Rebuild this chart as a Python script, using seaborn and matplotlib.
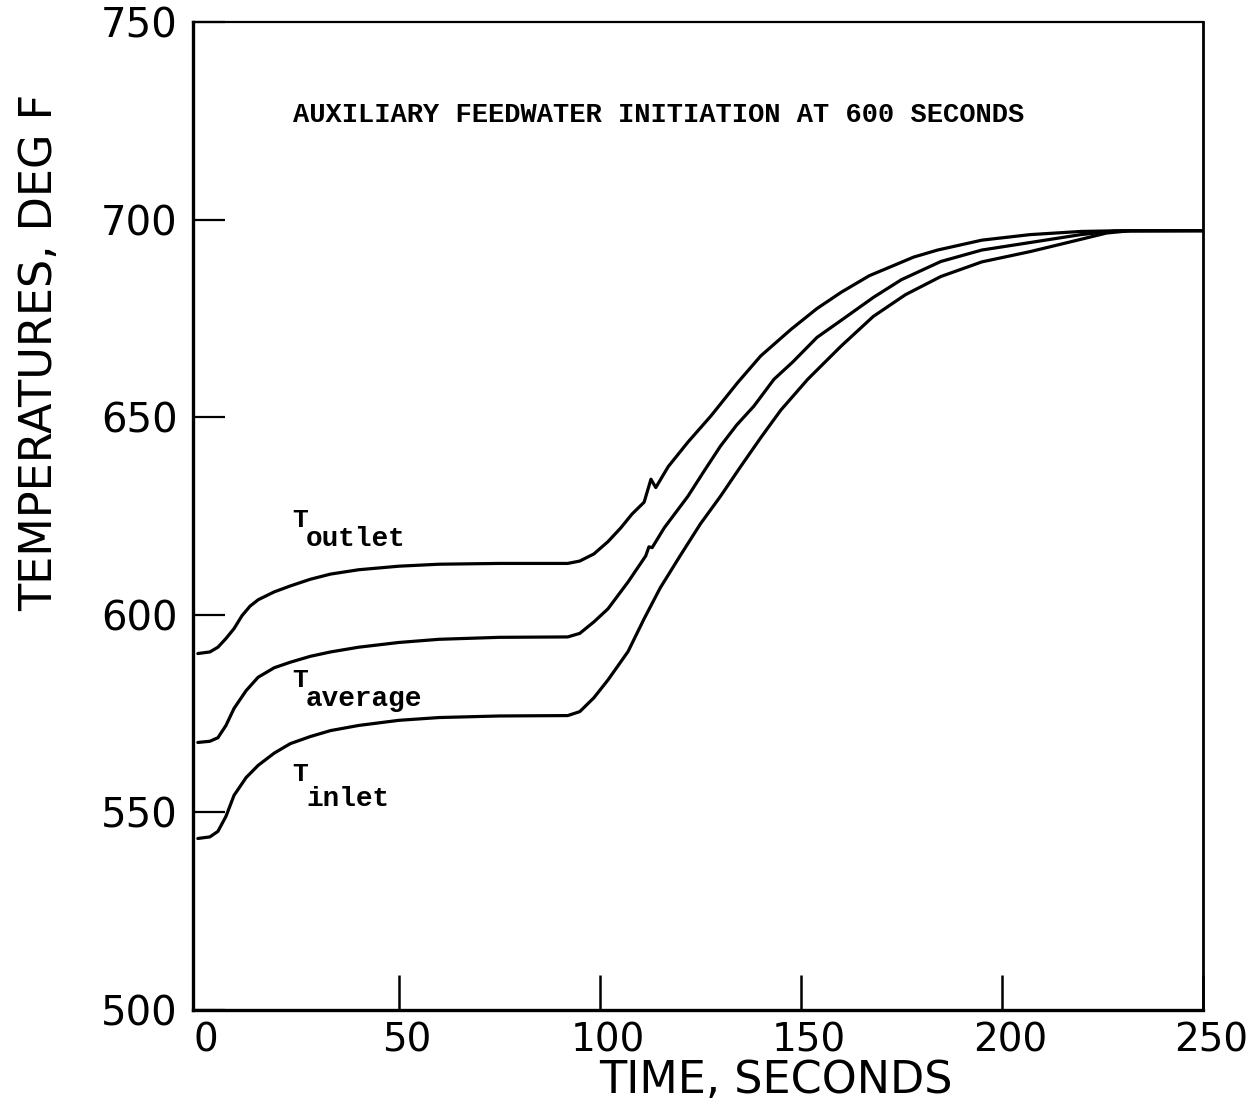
import numpy as np
import pandas as pd
import matplotlib
matplotlib.use("Agg")
import matplotlib.pyplot as plt
import matplotlib.transforms as mtransforms
import seaborn as sns

# ---- data ----
t_outlet = [0, 3, 5, 7, 9, 11, 13, 15, 19, 23, 28, 33, 40, 50, 60, 75, 92, 95, 98.5,
            102, 105.2, 108, 111, 112.7, 113.9, 117, 121.9, 127.6, 134.3, 140, 147.5,
            154, 160, 167, 172.4, 178, 184, 195, 207, 219.6, 230, 250]
T_outlet = [590.2, 590.6, 591.8, 594.0, 596.5, 599.8, 602.2, 603.8, 605.8, 607.3, 609.0,
            610.3, 611.4, 612.3, 612.8, 613.0, 613.0, 613.6, 615.4, 618.5, 622.0, 625.5,
            628.5, 634.3, 632.2, 637.5, 643.7, 650.3, 658.8, 665.5, 672.2, 677.5, 681.6,
            685.8, 688.1, 690.5, 692.3, 694.8, 696.2, 697.0, 697.2, 697.2]

t_average = [0, 3, 5, 7, 9, 12, 15, 19, 23, 28, 33, 40, 50, 60, 75, 92, 95, 98.5, 102,
             107, 111.4, 112.2, 113, 116, 121.9, 126, 130, 134, 138.3, 143.3, 148, 154,
             160, 168, 175, 184.8, 195, 207, 219.6, 228, 250]
T_average = [567.7, 568.0, 568.9, 572.0, 576.3, 580.8, 584.2, 586.6, 588.0, 589.5, 590.6,
             591.8, 593.0, 593.8, 594.3, 594.4, 595.3, 598.2, 601.5, 608.3, 614.9, 617.2,
             617.0, 622.0, 630.0, 636.5, 642.7, 648.0, 652.8, 659.6, 664.0, 670.2, 674.5,
             680.3, 684.8, 689.4, 692.3, 694.2, 696.2, 697.1, 697.2]

t_inlet = [0, 3, 5, 7, 9, 12, 15, 19, 23, 28, 33, 40, 50, 60, 75, 92, 95, 98.5, 102, 107,
           111, 115, 120, 125, 130, 135, 140, 145, 151.7, 160, 168, 176, 184.8, 195, 207,
           219.6, 226, 232, 250]
T_inlet = [543.4, 543.8, 545.2, 549.0, 554.3, 558.8, 561.9, 565.0, 567.4, 569.2, 570.7,
           572.0, 573.3, 574.0, 574.4, 574.5, 575.5, 579.0, 583.5, 590.7, 599.0, 606.8,
           615.0, 623.0, 630.0, 637.5, 644.8, 651.8, 659.6, 668.0, 675.5, 681.0, 685.6,
           689.3, 691.9, 695.0, 696.6, 697.2, 697.2]

series_names = ["outlet", "average", "inlet"]
x_ticks = [0, 50, 100, 150, 200, 250]
y_ticks = [500, 550, 600, 650, 700, 750]
title_text = "AUXILIARY FEEDWATER INITIATION AT 600 SECONDS"
x_label = "TIME, SECONDS"
y_label = "TEMPERATURES, DEG F"

df = pd.concat([
    pd.DataFrame({"time": t_outlet, "temp": T_outlet, "series": "outlet"}),
    pd.DataFrame({"time": t_average, "temp": T_average, "series": "average"}),
    pd.DataFrame({"time": t_inlet, "temp": T_inlet, "series": "inlet"}),
], ignore_index=True)

sns.set_theme(style="white")
plt.rcParams["font.family"] = ["DejaVu Sans"]
plt.rcParams["text.color"] = "black"
plt.rcParams["xtick.color"] = "black"
plt.rcParams["ytick.color"] = "black"

W, H = 1259, 1104
fig = plt.figure(figsize=(W / 100, H / 100), dpi=100)
ax = fig.add_axes([193 / W, 1 - 1010 / H, (1203 - 193) / W, (1010 - 22) / H])

sns.lineplot(data=df, x="time", y="temp", hue="series", hue_order=series_names,
             palette=["black"] * 3, estimator=None, sort=False, legend=False,
             linewidth=2.3, ax=ax)

ax.set_xlim(-1.2, 250)
ax.set_ylim(500, 750)

for side, lw in [("left", 2.4), ("bottom", 2.4), ("right", 2.0), ("top", 1.6)]:
    ax.spines[side].set_visible(True)
    ax.spines[side].set_color("black")
    ax.spines[side].set_linewidth(lw)

ax.set_xticks(x_ticks)
ax.set_xticklabels([str(v) for v in x_ticks], fontsize=28)
ax.set_yticks(y_ticks)
ax.set_yticklabels([str(v) for v in y_ticks], fontsize=29)
ax.tick_params(axis="x", which="major", bottom=True, top=False, direction="in",
               length=25, width=1.8, pad=8, colors="black")
ax.tick_params(axis="y", which="major", left=True, right=False, direction="in",
               length=23, width=1.6, pad=11, colors="black")
# no visible tick mark at x = 0 in the reference
ax.xaxis.get_major_ticks()[0].tick1line.set_visible(False)
shift = mtransforms.ScaledTranslation(8 / 100, 0, fig.dpi_scale_trans)
for lab in ax.get_xticklabels():
    lab.set_transform(lab.get_transform() + shift)
ax.set_xlabel("")
ax.set_ylabel("")

# axis titles
fig.text(776 / W, 1 - 1080 / H, x_label, ha="center", va="center", fontsize=32)
fig.text(40 / W, 1 - 352 / H, y_label, ha="center", va="center", rotation=90,
         fontsize=32)

# in-plot texts
mono = ["Liberation Mono", "DejaVu Sans Mono"]
ax.text(23.6, 726.5, title_text, ha="left", va="center", fontsize=19.5, family=mono,
        fontweight="bold")

labels = [("outlet", 624.0, 619.2), ("average", 583.6, 578.8), ("inlet", 559.8, 553.5)]
for name, yT, ysub in labels:
    ax.text(23.4, yT, "T", ha="left", va="center", fontsize=19, family=mono,
            fontweight="bold")
    ax.text(26.9, ysub, name, ha="left", va="center", fontsize=20, family=mono,
            fontweight="bold")

fig.savefig("out.png", dpi=100, facecolor="white")
